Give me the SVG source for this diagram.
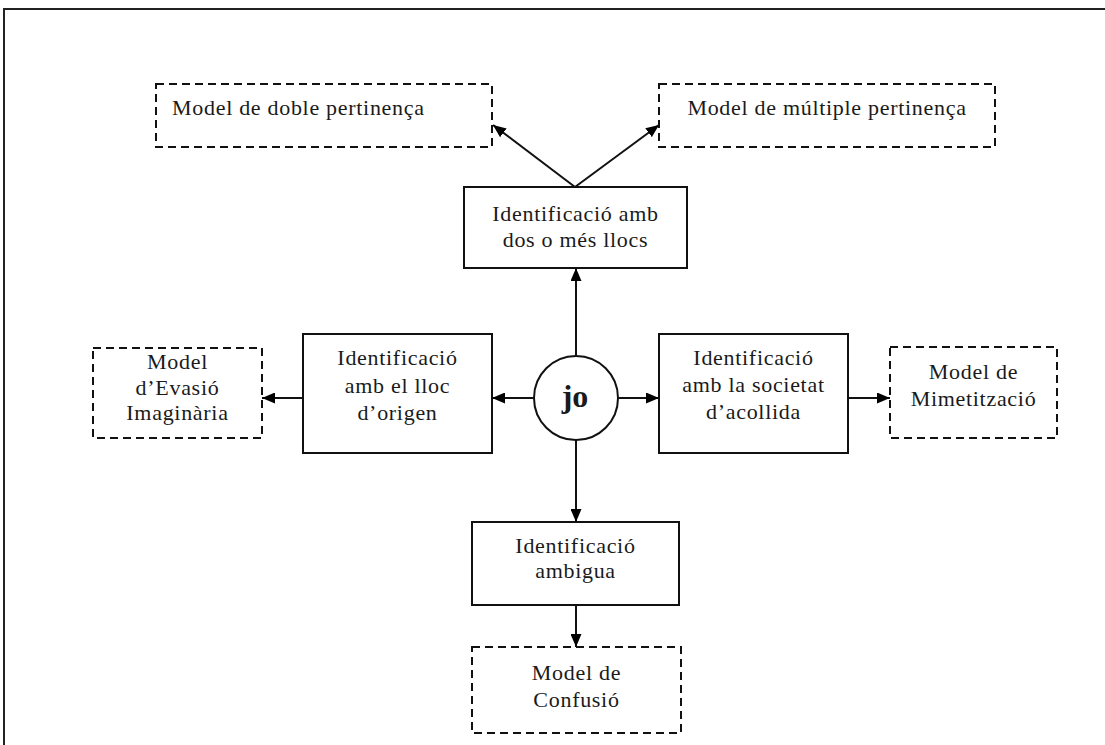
<svg xmlns="http://www.w3.org/2000/svg" width="1105" height="745" viewBox="0 0 1105 745">
<defs>
<marker id="ah" viewBox="0 0 13 11" refX="13" refY="5.5" markerWidth="13" markerHeight="11" markerUnits="userSpaceOnUse" orient="auto">
<path d="M0,0 L13,5.5 L0,11 Z" fill="#000"/>
</marker>
<style>
text{font-family:"Liberation Serif","Times New Roman",serif;font-size:22px;fill:#1a1a1a;letter-spacing:0.7px}
.c{text-anchor:middle}
.solid{fill:#fff;stroke:#111;stroke-width:2}
.dash{fill:#fff;stroke:#111;stroke-width:2;stroke-dasharray:8 5}
.conn{stroke:#111;stroke-width:2;fill:none;marker-end:url(#ah)}
</style>
</defs>
<rect width="1105" height="745" fill="#fff"/>
<path d="M4,745 V9 H1105" fill="none" stroke="#222" stroke-width="2"/>

<g id="connectors">
<line class="conn" x1="575" y1="187" x2="493" y2="125"/>
<line class="conn" x1="575" y1="187" x2="659" y2="125"/>
<line class="conn" x1="576" y1="356" x2="576" y2="268"/>
<line class="conn" x1="534" y1="398" x2="492" y2="398"/>
<line class="conn" x1="303" y1="398" x2="262" y2="398"/>
<line class="conn" x1="618" y1="398" x2="659" y2="398"/>
<line class="conn" x1="848" y1="398" x2="890" y2="398"/>
<line class="conn" x1="576" y1="440" x2="576" y2="522"/>
<line class="conn" x1="576" y1="605" x2="576" y2="647"/>
</g>

<g id="doble">
<rect class="dash" x="156" y="84" width="336" height="63"/>
<text x="172" y="115">Model de doble pertinença</text>
</g>
<g id="multiple">
<rect class="dash" x="659" y="84" width="336" height="63"/>
<text class="c" x="827" y="115">Model de múltiple pertinença</text>
</g>
<g id="dos-llocs">
<rect class="solid" x="464" y="187" width="223" height="81"/>
<text class="c" x="575.5" y="221">Identificació amb</text>
<text class="c" x="575.5" y="247">dos o més llocs</text>
</g>
<g id="evasio">
<rect class="dash" x="93" y="348" width="169" height="90"/>
<text class="c" x="177.5" y="369">Model</text>
<text class="c" x="177.5" y="395">d’Evasió</text>
<text class="c" x="177.5" y="420">Imaginària</text>
</g>
<g id="origen">
<rect class="solid" x="303" y="334" width="189" height="119"/>
<text class="c" x="397.5" y="365">Identificació</text>
<text class="c" x="397.5" y="393">amb el lloc</text>
<text class="c" x="397.5" y="420">d’origen</text>
</g>
<g id="jo">
<circle cx="576" cy="398" r="42" fill="#fff" stroke="#111" stroke-width="2"/>
<text class="c" x="575" y="407" style="font-size:32px;font-weight:bold;letter-spacing:0">jo</text>
</g>
<g id="acollida">
<rect class="solid" x="659" y="334" width="189" height="119"/>
<text class="c" x="753.5" y="365">Identificació</text>
<text class="c" x="753.5" y="392">amb la societat</text>
<text class="c" x="753.5" y="419">d’acollida</text>
</g>
<g id="mimetitzacio">
<rect class="dash" x="890" y="347" width="167" height="91"/>
<text class="c" x="973.5" y="379">Model de</text>
<text class="c" x="973.5" y="406">Mimetització</text>
</g>
<g id="ambigua">
<rect class="solid" x="472" y="522" width="207" height="83"/>
<text class="c" x="575.5" y="553">Identificació</text>
<text class="c" x="575.5" y="578">ambigua</text>
</g>
<g id="confusio">
<rect class="dash" x="472" y="647" width="209" height="86"/>
<text class="c" x="576.5" y="680">Model de</text>
<text class="c" x="576.5" y="707">Confusió</text>
</g>
</svg>
